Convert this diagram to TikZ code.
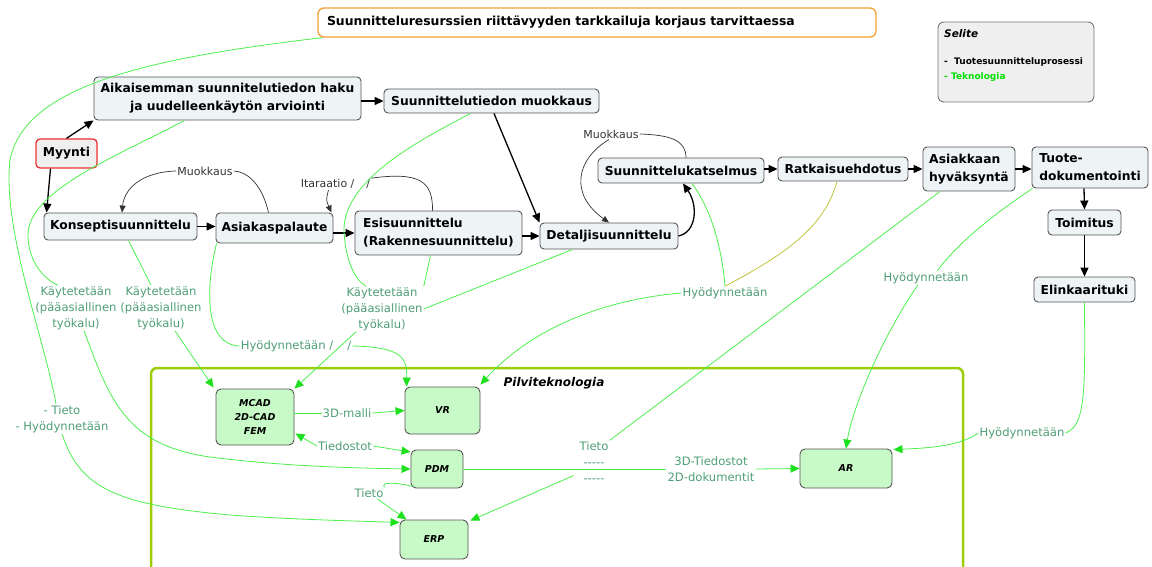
\documentclass[tikz,border=0pt]{standalone}
\usepackage{fontspec}
\setmainfont{DejaVu Sans}
\usetikzlibrary{arrows.meta,calc}
\definecolor{procfill}{HTML}{EEF3F6}
\definecolor{procdraw}{HTML}{555555}
\definecolor{techfill}{HTML}{C8FAC8}
\definecolor{glink}{HTML}{4CF04C}
\definecolor{garrow}{HTML}{1EE01E}
\definecolor{glabel}{HTML}{4E9E76}
\definecolor{cloudc}{HTML}{9CCC0A}
\definecolor{orangeb}{HTML}{F5A030}
\definecolor{redb}{HTML}{EE3030}
\definecolor{olivel}{HTML}{C2C23A}
\definecolor{loopc}{HTML}{333333}
\definecolor{selfill}{HTML}{EFEFEF}
\definecolor{teknoc}{HTML}{00E000}
\tikzset{
  proc/.style={draw=procdraw, fill=procfill, rounded corners=4pt, line width=0.9pt,
    font=\fontsize{12.3}{18}\selectfont\bfseries, inner sep=0pt, align=center},
  tech/.style={draw=procdraw, fill=techfill, rounded corners=5pt, line width=0.9pt,
    font=\fontsize{9.5}{14}\selectfont\bfseries\itshape, inner sep=0pt, align=center},
  titlebox/.style={draw=orangeb, fill=white, rounded corners=6pt, line width=1.3pt,
    font=\fontsize{12.4}{18}\selectfont\bfseries, inner xsep=9pt, inner ysep=0pt,
    text width=540pt, align=left, minimum height=29pt},
  glab/.style={text=glabel, font=\fontsize{11.6}{16}\selectfont, inner sep=1pt, align=center},
  dlab/.style={text=loopc, font=\fontsize{11}{14}\selectfont, inner sep=1pt},
  flow/.style={draw=black, line width=1.3pt, -{Triangle[length=9pt,width=8pt]}},
  lp/.style={draw=loopc, line width=0.7pt},
  lparrow/.style={lp, -{Triangle[length=7pt,width=6pt]}},
  gl/.style={draw=glink, line width=0.8pt},
  ga/.style={gl, -{Triangle[length=9pt,width=8pt,color=garrow]}},
}
\begin{document}
\begin{tikzpicture}[x=1pt,y=-1pt]
\useasboundingbox (0,0) rectangle (1152,567);
% cloud container
\begin{scope}
\clip (0,0) rectangle (1152,567);
\draw[cloudc, line width=2.5pt, rounded corners=6pt] (151,368) rectangle (963,580);
\end{scope}
\node[font=\fontsize{12}{14}\selectfont\bfseries\itshape] (pilvi) at (554,383) {Pilviteknologia};

% title and legend
\node[titlebox] (title) at (597,22.5) {Suunnitteluresurssien riittävyyden tarkkailuja korjaus tarvittaessa};
\node[draw=procdraw!80, fill=selfill, rounded corners=6pt, line width=0.9pt, minimum width=156pt, minimum height=80pt] (selite) at (1016,62) {};
\node[anchor=west, inner sep=0pt, font=\fontsize{10.5}{12}\selectfont\bfseries\itshape] (selt) at (944,34) {Selite};
\node[anchor=west, inner sep=0pt, font=\fontsize{9}{11}\selectfont\bfseries] (sel1) at (944,62) {-\ \ Tuotesuunnitteluprosessi};
\node[anchor=west, inner sep=0pt, text=teknoc, font=\fontsize{9}{11}\selectfont\bfseries] (sel2) at (944,77) {- Teknologia};

% process nodes
\node[proc, minimum width=267pt, minimum height=43pt] (aik) at (227.5,98.5) {Aikaisemman suunnitelutiedon haku\\ja uudelleenkäytön arviointi};
\node[proc, minimum width=215pt, minimum height=24pt] (muok) at (491.5,101) {Suunnittelutiedon muokkaus};
\node[proc, draw=redb, fill=selfill, line width=1.3pt, minimum width=61pt, minimum height=29pt] (myy) at (66.5,153.5) {Myynti};
\node[proc, minimum width=153pt, minimum height=27pt] (kons) at (120.5,226.5) {Konseptisuunnittelu};
\node[proc, minimum width=117pt, minimum height=30pt] (asp) at (274.5,228) {Asiakaspalaute};
\node[proc, align=left, minimum width=167pt, minimum height=44pt] (esi) at (438.5,233) {Esisuunnittelu\\(Rakennesuunnittelu)};
\node[proc, minimum width=138pt, minimum height=26pt] (det) at (609,236) {Detaljisuunnittelu};
\node[proc, minimum width=166pt, minimum height=25pt] (kats) at (681,170.5) {Suunnittelukatselmus};
\node[proc, minimum width=130pt, minimum height=24pt] (ratk) at (843,169) {Ratkaisuehdotus};
\node[proc, align=left, minimum width=92pt, minimum height=44pt] (hyv) at (969,169) {Asiakkaan\\hyväksyntä};
\node[proc, align=left, minimum width=116pt, minimum height=41pt] (tuote) at (1090,167.5) {Tuote-\\dokumentointi};
\node[proc, minimum width=73pt, minimum height=25pt] (toim) at (1084.5,222.5) {Toimitus};
\node[proc, minimum width=101pt, minimum height=25pt] (elin) at (1084.5,289.5) {Elinkaarituki};

% tech nodes
\node[tech, minimum width=78pt, minimum height=56pt] (mcad) at (255,417) {MCAD\\2D-CAD\\FEM};
\node[tech, minimum width=75pt, minimum height=47pt] (vr) at (442.5,410.5) {VR};
\node[tech, minimum width=52pt, minimum height=38pt] (pdm) at (437,469) {PDM};
\node[tech, minimum width=68pt, minimum height=39pt] (erp) at (434,539.5) {ERP};
\node[tech, minimum width=92pt, minimum height=39pt] (ar) at (846,468.5) {AR};

% black flow
\draw[flow] (myy.north) -- (aik.south west);
\draw[flow] ($(myy.south)+(-16,0)$) -- ($(kons.north west)+(3,0)$);
\draw[flow] (aik.east |- muok.west) -- (muok.west);
\draw[flow] ($(muok.south)+(2.5,0)$) -- (det.north west);
\draw[flow] (kons.east) -- (asp.west |- kons.east);
\draw[flow] (asp.east |- esi.west) -- (esi.west);
\draw[flow] (esi.east |- det.west) -- (det.west);
\draw[flow] (det.east) .. controls (697,232) and (698,205) .. ($(kats.south)+(2,0)$);
\draw[flow] (kats.east |- ratk.west) -- (ratk.west);
\draw[flow] (ratk.east) -- (hyv.west);
\draw[flow] (hyv.east) -- (tuote.west |- hyv.east);
\draw[flow] ($(tuote.south)+(-6,0)$) -- (toim.north);
\draw[flow] (toim.south) -- (elin.north);

% loops
\node[dlab] (m1) at (205,171) {Muokkaus};
\draw[lp] ($(asp.north)+(-6,0)$) .. controls (263,188) and (250,172) .. (m1.east);
\draw[lparrow] (m1.west) .. controls (140,172) and (124,190) .. ($(kons.north)+(1.5,0)$);
\node[dlab] (it) at (335.5,184) {Itaraatio /\hspace{12pt}/};
\draw[lp] ($(esi.north)+(-6,0)$) .. controls (433,180) and (418,172) .. (it.north east);
\draw[lparrow] ($(it.south)+(-7,0)$) .. controls (326,200) .. ($(asp.north east)+(-2,0)$);
\node[dlab] (m2) at (611,134) {Muokkaus};
\draw[lp] ($(kats.north)+(5,0)$) .. controls (686,140) and (670,135) .. (m2.east);
\draw[lparrow] ($(m2.south)+(-2,0)$) .. controls (575,160) and (570,195) .. (det.north);

% green labels
\node[glab] (k1) at (76,308) {Käytetetään\\(pääasiallinen\\työkalu)};
\node[glab] (k2) at (161,308) {Käytetetään\\(pääasiallinen\\työkalu)};
\node[glab] (k3) at (382,309) {Käytetetään\\(pääasiallinen\\työkalu)};
\node[glab] (h1) at (296,346) {Hyödynnetään /\hspace{14pt}/};
\node[glab] (h2) at (725,293) {Hyödynnetään};
\node[glab] (h3) at (926,278) {Hyödynnetään};
\node[glab] (h4) at (1022,433) {Hyödynnetään};
\node[glab] (th) at (62,419) {- Tieto\\- Hyödynnetään};
\node[glab] (m3d) at (347,413) {3D-malli};
\node[glab] (tied) at (345,446) {Tiedostot};
\node[glab] (tieto) at (369,493) {Tieto};
\node[glab] (tdash) at (594,462) {Tieto\\{-}{-}{-}{-}{-}\\{-}{-}{-}{-}{-}};
\node[glab] (f3d) at (711,469) {3D-Tiedostot\\2D-dokumentit};

% green connectors
\draw[gl] ($(title.south west)+(5,0)$) .. controls (150,58) and (25,85) .. (10,160) .. controls (2,230) and (45,340) .. ($(th.north)+(-6,0)$);
\draw[ga] (th.south) .. controls (80,490) and (120,505) .. (230,515) .. controls (300,520) and (360,521) .. ($(erp.west)+(0,-17)$);
\draw[gl] ($(aik.south)+(-43,0)$) .. controls (120,155) and (28,190) .. (28,235) .. controls (28,262) and (45,280) .. ($(k1.north)+(-18,0)$);
\draw[ga] ($(k1.south)+(8,0)$) .. controls (110,400) and (125,445) .. (210,457) .. controls (280,466) and (350,468) .. (pdm.west);
\draw[gl] ($(kons.south)+(8,0)$) -- ($(k2.north)+(-10,0)$);
\draw[ga] ($(k2.south)+(14,0)$) -- ($(mcad.north west)+(-2,-1)$);
\draw[gl] ($(asp.south west)+(1,0)$) .. controls (205,290) and (205,345) .. (h1.west);
\draw[ga] (h1.east) .. controls (405,347) and (407,360) .. ($(vr.north west)+(2,0)$);
\draw[gl] ($(muok.south)+(-21,0)$) .. controls (420,140) and (342,180) .. (344,232) .. controls (346,262) and (355,280) .. ($(k3.north)+(-16,0)$);
\draw[gl] ($(esi.south)+(-8,0)$) -- (k3.north east);
\draw[gl] ($(det.south west)+(33,0)$) -- (k3.east);
\draw[ga] ($(k3.south)+(-26,0)$) -- (mcad.north east);
\draw[gl] ($(kats.south)+(11,0)$) .. controls (712,210) and (722,250) .. (h2.north);
\draw[olivel, line width=0.8pt] ($(ratk.south)+(-6,0)$) .. controls (825,225) and (790,252) .. (h2.north);
\draw[ga] (h2.west) .. controls (600,300) and (530,330) .. ($(vr.north east)+(0,-2)$);
\draw[gl] ($(hyv.south)+(-29,0)$) -- (tdash.north east);
\draw[ga] ($(tdash.south west)+(-5,-8)$) -- ($(erp.north east)+(2,1)$);
\draw[gl] ($(tuote.south west)+(1,0)$) .. controls (1000,210) and (960,240) .. ($(h3.north)+(11,0)$);
\draw[ga] ($(h3.south)+(-8,0)$) .. controls (880,340) and (852,410) .. (ar.north);
\draw[gl] (elin.south) .. controls (1085,390) and (1086,425) .. (h4.east);
\draw[ga] (h4.west) .. controls (960,446) and (930,448) .. ($(ar.north east)+(1,1)$);
\draw[gl] (mcad.east |- m3d.west) -- (m3d.west);
\draw[ga] (m3d.east) -- (vr.west);
\draw[ga] (tied.west) -- ($(mcad.south east)+(1,-12)$);
\draw[ga] (tied.east) -- ($(pdm.west)+(0,-17)$);
\draw[gl] ($(pdm.south west)+(2,-2)$) .. controls (395,482) and (380,482) .. (tieto.north east);
\draw[ga] ($(tieto.south)+(8,0)$) -- ($(erp.north west)+(7,0)$);
\draw[gl] (pdm.east) -- (f3d.west);
\draw[ga] (f3d.east) -- (ar.west);
\end{tikzpicture}
\end{document}
